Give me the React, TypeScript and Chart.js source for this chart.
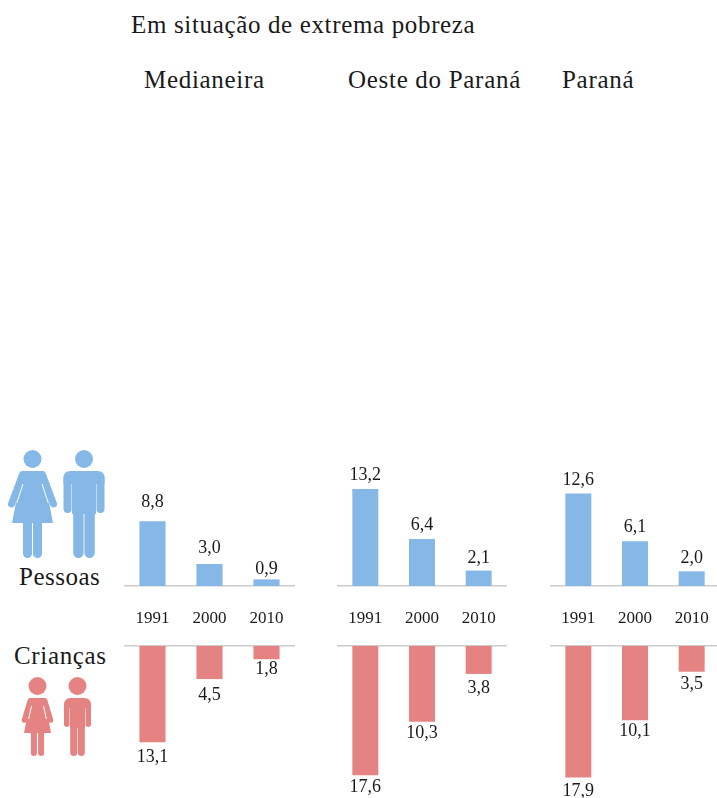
import React, { useEffect, useRef } from "react";
import { Chart, registerables } from "chart.js";

Chart.register(...registerables);

const years = ["1991", "2000", "2010"];
const regions = ["Medianeira", "Oeste do Paraná", "Paraná"];
const pessoasMedianeira = [8.8, 3.0, 0.9];
const pessoasOeste = [13.2, 6.4, 2.1];
const pessoasParana = [12.6, 6.1, 2.0];
const criancasMedianeira = [13.1, 4.5, 1.8];
const criancasOeste = [17.6, 10.3, 3.8];
const criancasParana = [17.9, 10.1, 3.5];

const BLUE = "#85b8e6";
const RED = "#e58383";
const INK = "#1a1a1a";
const FONT = '"Liberation Serif", serif';
const PX_PER_UNIT = 7.35;

const valueLabels = {
  id: "valueLabels",
  afterDatasetsDraw(chart: any) {
    const o = chart.options.plugins.valueLabels;
    const ctx = chart.ctx;
    ctx.save();
    ctx.font = `18px ${FONT}`;
    ctx.fillStyle = INK;
    ctx.textAlign = "center";
    ctx.textBaseline = "middle";
    chart.getDatasetMeta(0).data.forEach((bar: any, i: number) => {
      const v = chart.data.datasets[0].data[i];
      const off = o.offsets[i];
      ctx.fillText(v.toFixed(1).replace(".", ","), bar.x, bar.y + (o.down ? off : -off));
    });
    ctx.restore();
  },
};

function Panel({ values, left, width, top, height, down, offsets }: any) {
  const ref = useRef<HTMLCanvasElement>(null);
  useEffect(() => {
    const areaTop = down ? 6 : 0;
    const axisH = down ? 0 : 48;
    const areaH = height - areaTop - axisH;
    const chart = new Chart(ref.current!, {
      type: "bar",
      data: {
        labels: years,
        datasets: [
          {
            data: values,
            backgroundColor: down ? RED : BLUE,
            barPercentage: 26 / 56.7,
            categoryPercentage: 1,
          },
        ],
      },
      options: {
        animation: false,
        responsive: false,
        layout: { padding: { top: areaTop, left: 0, right: 0, bottom: 0 } },
        plugins: {
          legend: { display: false },
          tooltip: { enabled: false },
          valueLabels: { down, offsets },
        } as any,
        scales: {
          x: {
            position: down ? "top" : "bottom",
            afterFit: (axis: any) => {
              axis.height = axisH;
              axis.paddingLeft = 0;
              axis.paddingRight = 0;
            },
            grid: { display: false, drawTicks: false },
            border: { display: true, color: "#cccccc", width: 1.5 },
            ticks: {
              display: !down,
              padding: 22,
              color: INK,
              font: { family: FONT, size: 17 },
              maxRotation: 0,
            },
          },
          y: {
            display: false,
            min: 0,
            max: areaH / PX_PER_UNIT,
            reverse: down,
          },
        },
      },
      plugins: [valueLabels],
    });
    return () => chart.destroy();
  }, []);
  return (
    <canvas
      ref={ref}
      width={width}
      height={height}
      style={{ position: "absolute", left, top, width, height, display: "block" }}
    />
  );
}

function Label({ x, y, size, children, spacing }: any) {
  return (
    <div
      style={{
        position: "absolute",
        left: x,
        top: y,
        transform: "translateY(-50%)",
        font: `${size}px ${FONT}`,
        letterSpacing: spacing,
        color: INK,
        whiteSpace: "nowrap",
      }}
    >
      {children}
    </div>
  );
}

function Woman({ c, hx, hy, r, sy, sx, ax, ay, aw, gy, skY, skX, lx, lw, lb }: any) {
  return (
    <g>
      <circle cx={hx} cy={hy} r={r} fill={c} />
      <g stroke={c} strokeLinecap="round" strokeWidth={aw} fill="none">
        <line x1={hx - sx + aw / 2 - 1} y1={sy + aw / 2} x2={hx - ax} y2={ay} />
        <line x1={hx + sx - aw / 2 + 1} y1={sy + aw / 2} x2={hx + ax} y2={ay} />
      </g>
      <path
        d={`M${hx - sx + 2} ${sy} H${hx + sx - 2} L${hx + skX} ${skY} H${hx - skX} Z`}
        fill={c}
      />
      <g stroke="#fff" strokeWidth={1}>
        <line x1={hx - sx + 3} y1={gy} x2={hx - ax + aw * 0.75} y2={ay - 1} />
        <line x1={hx + sx - 3} y1={gy} x2={hx + ax - aw * 0.75} y2={ay - 1} />
      </g>
      <g stroke={c} strokeLinecap="round" strokeWidth={lw}>
        <line x1={hx - lx} y1={skY} x2={hx - lx} y2={lb - lw / 2} />
        <line x1={hx + lx} y1={skY} x2={hx + lx} y2={lb - lw / 2} />
      </g>
    </g>
  );
}

function Man({ c, hx, hy, r, top, half, aw, ab, gy, th, hip, lw, lx, lb }: any) {
  return (
    <g>
      <circle cx={hx} cy={hy} r={r} fill={c} />
      <path
        d={`M${hx - half} ${top + 7} Q${hx - half} ${top} ${hx - half + 7} ${top} H${hx + half - 7} Q${hx + half} ${top} ${hx + half} ${top + 7} V${gy} H${hx - half} Z`}
        fill={c}
      />
      <g stroke={c} strokeLinecap="round" strokeWidth={aw}>
        <line x1={hx - half + aw / 2} y1={top + 7} x2={hx - half + aw / 2} y2={ab - aw / 2} />
        <line x1={hx + half - aw / 2} y1={top + 7} x2={hx + half - aw / 2} y2={ab - aw / 2} />
      </g>
      <rect x={hx - th} y={top} width={th * 2} height={hip - top} fill={c} />
      <g stroke={c} strokeLinecap="round" strokeWidth={lw}>
        <line x1={hx - lx} y1={hip - 2} x2={hx - lx} y2={lb - lw / 2} />
        <line x1={hx + lx} y1={hip - 2} x2={hx + lx} y2={lb - lw / 2} />
      </g>
    </g>
  );
}

export default function App() {
  return (
    <div
      style={{
        position: "absolute",
        left: 0,
        top: 0,
        width: 717,
        height: 798,
        overflow: "hidden",
        background: "#fff",
      }}
    >
      <Label x={131} y={25} size={25} spacing="0.65px">Em situação de extrema pobreza</Label>
      <Label x={144} y={80} size={25} spacing="0.7px">{regions[0]}</Label>
      <Label x={348} y={80} size={25} spacing="0.7px">{regions[1]}</Label>
      <Label x={562} y={80} size={25} spacing="0.7px">{regions[2]}</Label>
      <Label x={19} y={577} size={25} spacing="0.5px">Pessoas</Label>
      <Label x={14} y={656} size={25} spacing="0.66px">Crianças</Label>

      <svg
        width={120}
        height={798}
        style={{ position: "absolute", left: 0, top: 0 }}
      >
        <Woman c={BLUE} hx={32.5} hy={459} r={9} sy={471} sx={12.5} ax={21} ay={504} aw={7} gy={484} skY={523} skX={20.5} lx={5} lw={9} lb={558} />
        <Man c={BLUE} hx={84} hy={459} r={9} top={471} half={20.5} aw={8} ab={513} gy={484} th={12} hip={514} lw={10.4} lx={5.6} lb={558} />
        <Woman c={RED} hx={37.5} hy={686} r={9} sy={698} sx={9} ax={13} ay={720} aw={5.5} gy={706} skY={733} skX={13.5} lx={3.6} lw={6} lb={756} />
        <Man c={RED} hx={77.5} hy={686} r={9} top={698} half={13.5} aw={5.5} ab={727} gy={708} th={7.5} hip={728} lw={7} lx={3.8} lb={756} />
      </svg>

      <Panel values={pessoasMedianeira} left={124} width={171} top={446} height={188} down={false} offsets={[19, 16, 10]} />
      <Panel values={pessoasOeste} left={337} width={170} top={446} height={188} down={false} offsets={[14, 14, 12]} />
      <Panel values={pessoasParana} left={550} width={170} top={446} height={188} down={false} offsets={[13, 14, 13]} />
      <Panel values={criancasMedianeira} left={124} width={171} top={640} height={158} down={true} offsets={[15, 16, 10]} />
      <Panel values={criancasOeste} left={337} width={170} top={640} height={158} down={true} offsets={[12, 12, 14]} />
      <Panel values={criancasParana} left={550} width={170} top={640} height={158} down={true} offsets={[14, 11, 13]} />
    </div>
  );
}
